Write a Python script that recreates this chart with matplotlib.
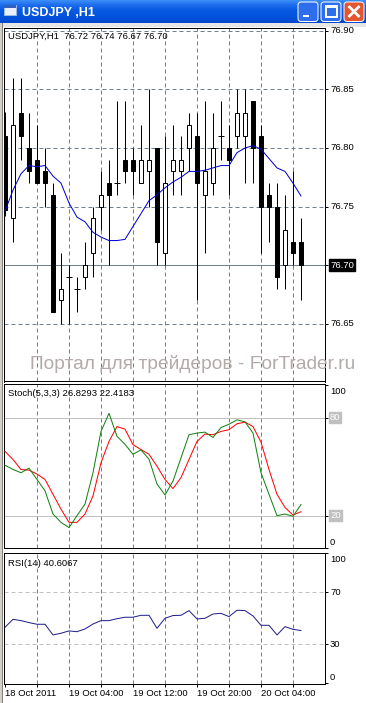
import matplotlib
matplotlib.use('Agg')
import matplotlib.pyplot as plt
from matplotlib.patches import Rectangle, FancyBboxPatch
import numpy as np

plt.rcParams['font.family'] = ['Liberation Sans', 'DejaVu Sans']

# ---------------- data ----------------
window_title = 'USDJPY ,H1'
chart_label = 'USDJPY,H1  76.72 76.74 76.67 76.70'
stoch_label = 'Stoch(5,3,3) 26.8293 22.4183'
rsi_label = 'RSI(14) 40.6067'
watermark = 'Портал для трейдеров - ForTrader.ru'

opens  = [76.810, 76.740, 76.830, 76.800, 76.790, 76.780, 76.760, 76.670, 76.690, 76.680,
          76.690, 76.710, 76.750, 76.770, 76.770, 76.790, 76.790, 76.770, 76.780, 76.800,
          76.710, 76.780, 76.780, 76.800, 76.810, 76.760, 76.770, 76.810, 76.800, 76.810,
          76.810, 76.840, 76.810, 76.760, 76.750, 76.700, 76.720, 76.720]
highs  = [76.831, 76.860, 76.860, 76.830, 76.820, 76.800, 76.770, 76.710, 76.700, 76.690,
          76.720, 76.750, 76.780, 76.790, 76.840, 76.840, 76.800, 76.820, 76.850, 76.800,
          76.810, 76.820, 76.810, 76.830, 76.830, 76.840, 76.830, 76.840, 76.820, 76.850,
          76.850, 76.840, 76.820, 76.770, 76.770, 76.760, 76.780, 76.740]
lows   = [76.742, 76.720, 76.790, 76.770, 76.770, 76.750, 76.660, 76.650, 76.650, 76.660,
          76.680, 76.690, 76.730, 76.700, 76.760, 76.770, 76.760, 76.770, 76.750, 76.700,
          76.700, 76.760, 76.760, 76.780, 76.670, 76.710, 76.760, 76.790, 76.760, 76.800,
          76.770, 76.770, 76.710, 76.720, 76.680, 76.680, 76.700, 76.670]
closes = [76.747, 76.820, 76.810, 76.780, 76.770, 76.770, 76.660, 76.680, 76.690, 76.680,
          76.700, 76.740, 76.760, 76.760, 76.770, 76.780, 76.780, 76.790, 76.790, 76.720,
          76.770, 76.790, 76.790, 76.820, 76.770, 76.780, 76.800, 76.810, 76.790, 76.830,
          76.830, 76.800, 76.750, 76.750, 76.690, 76.730, 76.710, 76.700]
ma_values = [76.746, 76.764, 76.778, 76.785, 76.784, 76.785, 76.776, 76.770, 76.753, 76.741,
             76.737, 76.728, 76.724, 76.721, 76.721, 76.722, 76.733, 76.744, 76.755, 76.760,
             76.766, 76.771, 76.775, 76.780, 76.780, 76.781, 76.783, 76.785, 76.785, 76.796,
             76.800, 76.802, 76.799, 76.791, 76.783, 76.780, 76.770, 76.759]
stoch_main = [50.9, 48.3, 46.3, 49.1, 42.2, 35.2, 21.0, 15.9, 12.7, 20.0,
              27.1, 46.3, 71.6, 82.7, 68.6, 63.7, 57.6, 60.3, 54.6, 39.4,
              32.7, 41.2, 55.4, 69.6, 70.6, 71.2, 67.9, 74.0, 76.0, 78.7,
              77.5, 70.6, 46.3, 33.1, 20.0, 21.0, 19.6, 26.83]
stoch_signal = [59.4, 54.4, 48.3, 47.9, 45.5, 42.2, 33.1, 24.0, 15.9, 15.9,
                21.0, 32.1, 52.4, 65.5, 74.6, 73.0, 63.5, 60.5, 57.6, 50.3,
                42.2, 36.6, 43.3, 54.4, 65.5, 70.0, 69.6, 71.6, 72.7, 76.3,
                77.3, 74.6, 65.0, 48.3, 33.1, 25.0, 20.4, 22.42]
rsi_values = [43.1, 49.2, 48.2, 46.7, 45.4, 45.4, 37.2, 38.5, 40.3, 39.7,
              41.8, 45.6, 48.2, 48.2, 49.7, 50.8, 50.8, 52.3, 52.3, 42.3,
              50.0, 52.1, 52.3, 55.9, 49.5, 50.0, 53.3, 53.8, 51.3, 56.2,
              55.9, 51.8, 44.6, 44.6, 37.2, 43.6, 41.5, 40.61]

time_label_bars = [0, 8, 16, 24, 32]
time_labels = ['18 Oct 2011', '19 Oct 04:00', '19 Oct 12:00', '19 Oct 20:00', '20 Oct 04:00']
time_tick_bars = [0, 4, 8, 12, 16, 20, 24, 28, 32, 36]
grid_bars = [4, 8, 12, 16, 20, 24, 28, 32, 36]
price_levels = [76.65, 76.70, 76.75, 76.80, 76.85, 76.90]
bid_price = 76.70
stoch_levels = [20, 80]
rsi_levels = [30, 70]

# ---------------- layout ----------------
W, H, DPI = 366, 703, 100
PX = 72.0 / DPI
GRID = '#708090'
FS = 6.8

fig = plt.figure(figsize=(W / DPI, H / DPI), dpi=DPI)
fig.patch.set_facecolor('white')


def rect(x0, y0, x1, y1):
    return [x0 / W, 1 - y1 / H, (x1 - x0) / W, (y1 - y0) / H]


ax_main = fig.add_axes(rect(4, 28, 325, 381.5))
ax_st = fig.add_axes(rect(4, 384, 325, 548.3))
ax_rsi = fig.add_axes(rect(4, 552.5, 325, 684))

bars = np.arange(len(opens))
for ax in (ax_main, ax_st, ax_rsi):
    ax.set_xlim(-0.125, 40)
    ax.set_facecolor('white')
    for sp in ax.spines.values():
        sp.set_linewidth(PX)
        sp.set_color('black')
    ax.set_xticks([])
    ax.yaxis.set_ticks_position('right')
    ax.tick_params(axis='y', direction='out', length=3 * PX, width=PX, color='black',
                   labelright=False, labelleft=False)
    for b in grid_bars:
        ax.axvline(b, color=GRID, lw=PX, ls=(0, (4, 3)), zorder=1)


def right_label(ax, value, text, dy=0, **kw):
    ax.annotate(text, xy=(1, value), xycoords=('axes fraction', 'data'),
                xytext=(5, dy), textcoords='offset pixels', ha='left', va='center',
                fontsize=FS, annotation_clip=False, **kw)


def title_label(ax, text, dy):
    ax.annotate(text, xy=(0, 1), xycoords='axes fraction', xytext=(4, dy),
                textcoords='offset pixels', ha='left', va='center', fontsize=FS)


# ---- main price chart ----
o = np.array(opens); c = np.array(closes); hi = np.array(highs); lo = np.array(lows)
ax_main.set_ylim(76.6007, 76.9024)
for p in price_levels:
    if abs(p - bid_price) > 1e-9:
        ax_main.axhline(p, color=GRID, lw=PX, ls=(0, (4, 3)), zorder=1)
ax_main.axhline(bid_price, color=GRID, lw=PX, zorder=1.5)

ax_main.vlines(bars, lo, hi, color='black', lw=PX, zorder=3)
up = c > o + 1e-9
down = c < o - 1e-9
doji = ~(up | down)
ax_main.bar(bars[up], (c - o)[up], bottom=o[up], width=0.5, facecolor='white',
            edgecolor='black', linewidth=PX, zorder=4)
ax_main.bar(bars[down], (c - o)[down], bottom=o[down], width=0.5, facecolor='black',
            edgecolor='black', linewidth=PX, zorder=4)
ax_main.hlines(c[doji], bars[doji] - 0.33, bars[doji] + 0.33, color='black', lw=PX, zorder=4)
ax_main.plot(bars, ma_values, color='#0000D0', lw=PX, zorder=5)

ax_main.set_yticks(price_levels)
for p in price_levels:
    if abs(p - bid_price) < 1e-9:
        right_label(ax_main, p, f'{p:.2f}', color='white',
                    bbox=dict(boxstyle='square,pad=0.15', fc='black', ec='black'))
    else:
        right_label(ax_main, p, f'{p:.2f}')
title_label(ax_main, chart_label, -8)

# ---- stochastic ----
ax_st.set_ylim(0.79, 100.67)
for lv in stoch_levels:
    ax_st.axhline(lv, color='#C0C0C0', lw=PX, zorder=1.5)
ax_st.plot(bars, stoch_signal, color='#FF0000', lw=PX, zorder=4)
ax_st.plot(bars, stoch_main, color='#108010', lw=PX, zorder=5)
ax_st.set_yticks([0, 20, 80, 100])
right_label(ax_st, 100, '100', dy=-6.5)
right_label(ax_st, 0, '0', dy=6)
for lv in stoch_levels:
    right_label(ax_st, lv, str(lv), color='white',
                bbox=dict(boxstyle='square,pad=0.1', fc='#C0C0C0', ec='#C0C0C0'))
title_label(ax_st, stoch_label, -10)

# ---- RSI ----
ax_rsi.set_ylim(-0.54, 100.6)
for lv in rsi_levels:
    ax_rsi.axhline(lv, color='#C0C0C0', lw=PX, ls=(0, (4, 3)), zorder=1.5)
ax_rsi.plot(bars, rsi_values, color='#1E1E8C', lw=PX, zorder=4)
ax_rsi.set_yticks([0, 30, 70, 100])
right_label(ax_rsi, 100, '100', dy=-6.7)
right_label(ax_rsi, 70, '70')
right_label(ax_rsi, 30, '30')
right_label(ax_rsi, 0, '0', dy=5.6)
title_label(ax_rsi, rsi_label, -10.5)

ax_rsi.set_xticks(time_tick_bars)
ax_rsi.tick_params(axis='x', bottom=True, direction='out', length=3 * PX, width=PX,
                   labelbottom=False)
for b, t in zip(time_label_bars, time_labels):
    ax_rsi.annotate(t, xy=(b, 0), xycoords=('data', 'axes fraction'), xytext=(0, -9.5),
                    textcoords='offset pixels', ha='left', va='center', fontsize=FS,
                    annotation_clip=False)

# ---------------- window chrome overlay ----------------
ov = fig.add_axes([0, 0, 1, 1])
ov.set_zorder(10)
ov.patch.set_visible(False)
ov.axis('off')

stops = np.array([[0x3A, 0x8C, 0xF6], [0x1E, 0x6E, 0xEE], [0x0A, 0x5C, 0xE4],
                  [0x04, 0x56, 0xE0], [0x02, 0x50, 0xD8], [0x00, 0x48, 0xCC]]) / 255.0
rows = 23
t = np.linspace(0, 1, rows)
grad = np.zeros((rows, 1, 3))
for k in range(3):
    grad[:, 0, k] = np.interp(t, np.linspace(0, 1, len(stops)), stops[:, k])
ov.imshow(grad, extent=(0, W, 23, 0), aspect='auto', interpolation='bilinear', zorder=1)
ov.add_patch(Rectangle((0, 23), W, 4, facecolor='#E6E6E6', edgecolor='none', zorder=1))
ov.add_patch(Rectangle((0, 23), 1.5, H, facecolor='#D4D0C8', edgecolor='none', zorder=1))
ov.add_patch(Rectangle((1.5, 23), 1.5, H, facecolor='#808080', edgecolor='none', zorder=1))

# icon
ov.add_patch(Rectangle((3.5, 4.5), 12, 10, facecolor='#E8F0FF', edgecolor='#9BB8E8', lw=PX, zorder=2))
ov.add_patch(Rectangle((3.5, 4.5), 12, 3, facecolor='#3060C0', edgecolor='none', zorder=3))
ov.text(22, 12.5, window_title, color='white', fontsize=9, fontweight='bold',
        ha='left', va='center', zorder=3)

# buttons
for x0, fc in ((298, '#2E6DEB'), (321, '#2E6DEB'), (344, '#E2552E')):
    ov.add_patch(FancyBboxPatch((x0, 2), 20, 19.5, boxstyle='round,pad=0,rounding_size=3',
                                facecolor=fc, edgecolor='white', lw=PX, zorder=2))
ov.add_patch(Rectangle((302.5, 14.5), 6.5, 2.5, facecolor='white', edgecolor='none', zorder=3))
ov.add_patch(Rectangle((325.5, 5.5), 11.5, 11.5, facecolor='none', edgecolor='white', lw=1.4, zorder=3))
ov.add_patch(Rectangle((325.5, 5.5), 11.5, 2.2, facecolor='white', edgecolor='none', zorder=3))
ov.plot([348.5, 359.5], [6, 17], color='white', lw=2.0, zorder=3, solid_capstyle='butt')
ov.plot([348.5, 359.5], [17, 6], color='white', lw=2.0, zorder=3, solid_capstyle='butt')

# watermark
ov.text(30, 369, watermark, color='#B4A9A9', fontsize=13.8, ha='left', va='baseline', zorder=5)

ov.set_xlim(0, W)
ov.set_ylim(H, 0)

fig.savefig('out.png', dpi=DPI, facecolor='white')
